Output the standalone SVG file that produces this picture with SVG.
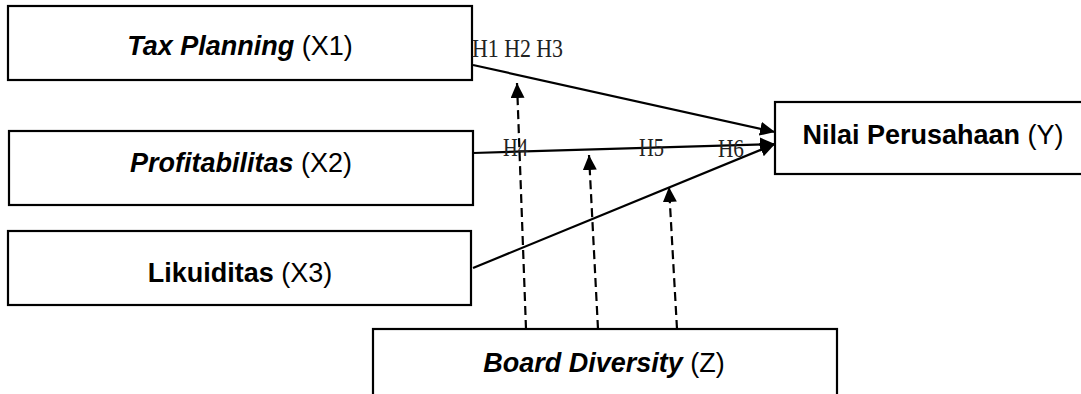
<svg xmlns="http://www.w3.org/2000/svg" width="1081" height="394" viewBox="0 0 1081 394">
<style>
.box{fill:#fff;stroke:#000;stroke-width:2.2}
.lbl{font-family:"Liberation Sans",Arial,sans-serif;font-size:27px;fill:#000;text-anchor:middle}
.bi{font-weight:bold;font-style:italic}
.b{font-weight:bold}
.h{font-family:"Liberation Serif","Times New Roman",serif;font-size:25px;fill:#222}
.solid{fill:none;stroke:#000;stroke-width:2.2}
.dash{fill:none;stroke:#000;stroke-width:2.2;stroke-dasharray:9 5}
</style>
<defs>
<marker id="ah" markerUnits="userSpaceOnUse" markerWidth="16" markerHeight="16" viewBox="0 0 16 16" refX="15" refY="7" orient="auto">
<path d="M0,0 L15,7 L0,14 z" fill="#000"/>
</marker>
</defs>
<rect width="1081" height="394" fill="#fff"/>
<g id="x1">
<rect class="box" x="8" y="6" width="464" height="74"/>
<text class="lbl" x="240" y="55"><tspan class="bi">Tax Planning</tspan> (X1)</text>
</g>
<g id="x2">
<rect class="box" x="9" y="131" width="464" height="74"/>
<text class="lbl" x="241" y="172"><tspan class="bi">Profitabilitas</tspan> (X2)</text>
</g>
<g id="x3">
<rect class="box" x="8" y="231" width="463" height="74"/>
<text class="lbl" x="240" y="282"><tspan class="b">Likuiditas</tspan> (X3)</text>
</g>
<g id="y">
<rect class="box" x="775" y="102" width="330" height="72"/>
<text class="lbl" x="933" y="144"><tspan class="b">Nilai Perusahaan</tspan> (Y)</text>
</g>
<g id="z">
<rect class="box" x="373" y="329" width="464" height="80"/>
<text class="lbl" x="604" y="372"><tspan class="bi">Board Diversity</tspan> (Z)</text>
</g>
<g id="connectors">
<line class="solid" x1="473" y1="65" x2="775" y2="132" marker-end="url(#ah)"/>
<line class="solid" x1="473" y1="153" x2="775" y2="144" marker-end="url(#ah)"/>
<line class="solid" x1="473" y1="268" x2="775" y2="144" marker-end="url(#ah)"/>
<line class="dash" x1="526" y1="329" x2="517" y2="83" marker-end="url(#ah)"/>
<line class="dash" x1="598" y1="329" x2="589" y2="155" marker-end="url(#ah)"/>
<line class="dash" x1="677" y1="329" x2="669" y2="187" marker-end="url(#ah)"/>
</g>
<g id="labels">
<text class="h" x="472" y="57" textLength="91" lengthAdjust="spacingAndGlyphs">H1 H2 H3</text>
<text class="h" x="503" y="156" textLength="25" lengthAdjust="spacingAndGlyphs">H4</text>
<text class="h" x="639" y="156" textLength="25" lengthAdjust="spacingAndGlyphs">H5</text>
<text class="h" x="718" y="157" textLength="26" lengthAdjust="spacingAndGlyphs">H6</text>
</g>
</svg>
